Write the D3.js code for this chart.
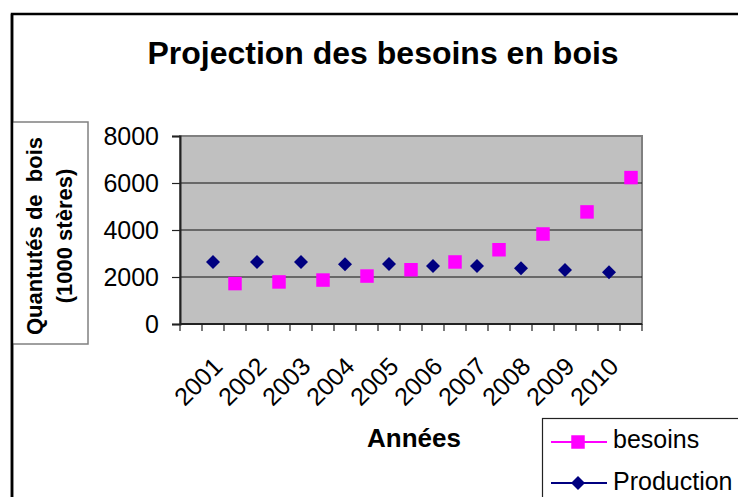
<!DOCTYPE html>
<html>
<head>
<meta charset="utf-8">
<script src="https://cdn.jsdelivr.net/npm/d3@7"></script>
<style>
  html, body { margin: 0; padding: 0; background: #fff; }
  svg { display: block; font-family: "Liberation Sans", Arial, sans-serif; }
</style>
</head>
<body>
<svg id="chart" width="738" height="497"></svg>
<script>
// ---- data ----
const years = ["2001","2002","2003","2004","2005","2006","2007","2008","2009","2010"];
const besoins = [1720, 1790, 1870, 2040, 2310, 2640, 3160, 3830, 4770, 6230];
const production = [2640, 2640, 2640, 2540, 2550, 2470, 2470, 2370, 2300, 2200];
const yTicks = [0, 2000, 4000, 6000, 8000];
const titleText = "Projection des besoins en bois";
const xTitle = "Années";
const yTitle1 = "Quantutés de  bois";
const yTitle2 = "(1000 stères)";
const seriesNames = ["besoins", "Production"];

// ---- layout ----
const svg = d3.select("#chart");
const plot = { left: 180, right: 642, top: 136, bottom: 324 };
const font = '"Liberation Sans", Arial, sans-serif';
const MAGENTA = "#FF00FF", NAVY = "#000080";

// slots: empty first, then production/besoins for each year
const slots = [""].concat(years.flatMap(y => [y + "p", y + "b"]));
const x = d3.scaleBand().domain(slots).range([plot.left, plot.right]).padding(0);
const y = d3.scaleLinear().domain([0, 8000]).range([plot.bottom, plot.top]);

// outer chart border
svg.append("rect")
  .attr("x", 12).attr("y", 14).attr("width", 800).attr("height", 600)
  .attr("fill", "none").attr("stroke", "#000").attr("stroke-width", 2.5);

// title
svg.append("text")
  .attr("x", 383).attr("y", 64)
  .attr("text-anchor", "middle")
  .attr("font-size", 32).attr("font-weight", "bold")
  .text(titleText);

// plot area
svg.append("rect")
  .attr("x", plot.left).attr("y", plot.top)
  .attr("width", plot.right - plot.left).attr("height", plot.bottom - plot.top)
  .attr("fill", "#C0C0C0").attr("stroke", "#808080").attr("stroke-width", 2);

// gridlines
svg.append("g").selectAll("line")
  .data(yTicks.filter(d => d > 0 && d < 8000))
  .join("line")
  .attr("x1", plot.left).attr("x2", plot.right)
  .attr("y1", d => y(d)).attr("y2", d => y(d))
  .attr("stroke", "#111").attr("stroke-width", 1);

// y axis
const yAxis = svg.append("g")
  .attr("transform", `translate(${plot.left},0)`)
  .call(d3.axisLeft(y).tickValues(yTicks).tickFormat(d => String(d)).tickSize(8).tickPadding(13));
yAxis.select(".domain").attr("stroke", "#222").attr("stroke-width", 2);
yAxis.selectAll(".tick line").attr("stroke", "#222").attr("stroke-width", 1.2);
yAxis.selectAll(".tick text").attr("font-size", 25).attr("font-family", font).attr("fill", "#000");

// x axis line and ticks at slot boundaries
svg.append("line")
  .attr("x1", plot.left).attr("x2", plot.right)
  .attr("y1", plot.bottom).attr("y2", plot.bottom)
  .attr("stroke", "#222").attr("stroke-width", 2);
const boundaries = slots.map(s => x(s)).concat([x.range()[1]]);
svg.append("g").selectAll("line")
  .data(boundaries)
  .join("line")
  .attr("x1", d => d).attr("x2", d => d)
  .attr("y1", plot.bottom).attr("y2", plot.bottom + 7)
  .attr("stroke", "#222").attr("stroke-width", 1.2);

// x labels (rotated -45)
svg.append("g").selectAll("text")
  .data(years)
  .join("text")
  .attr("transform", d => `translate(${x(d + "b")},${plot.bottom + 44}) rotate(-45)`)
  .attr("text-anchor", "end")
  .attr("font-size", 25)
  .text(d => d);

// x title
svg.append("text")
  .attr("x", 414).attr("y", 447)
  .attr("text-anchor", "middle")
  .attr("font-size", 26).attr("font-weight", "bold")
  .text(xTitle);

// y title box
svg.append("rect")
  .attr("x", 12).attr("y", 122).attr("width", 76).attr("height", 222)
  .attr("fill", "#fff").attr("stroke", "#808080").attr("stroke-width", 1.5);
svg.append("line")
  .attr("x1", 12).attr("x2", 12).attr("y1", 14).attr("y2", 497)
  .attr("stroke", "#000").attr("stroke-width", 2.5);
const yt = svg.append("text")
  .attr("transform", "translate(0,236) rotate(-90)")
  .attr("text-anchor", "middle")
  .attr("font-size", 22).attr("font-weight", "bold")
  .style("white-space", "pre");
yt.append("tspan").attr("x", 0).attr("y", 42).text(yTitle1);
yt.append("tspan").attr("x", 0).attr("y", 72).text(yTitle2);

// markers
const squareSym = d3.symbol(d3.symbolSquare, 182);
const diamondSym = d3.symbol(d3.symbolSquare, 98);

svg.append("g").selectAll("path")
  .data(years.map((yr, i) => ({ yr, v: production[i] })))
  .join("path")
  .attr("d", diamondSym)
  .attr("transform", d => `translate(${x(d.yr + "p") + x.bandwidth() / 2},${y(d.v)}) rotate(45)`)
  .attr("fill", NAVY);

svg.append("g").selectAll("path")
  .data(years.map((yr, i) => ({ yr, v: besoins[i] })))
  .join("path")
  .attr("d", squareSym)
  .attr("transform", d => `translate(${x(d.yr + "b") + x.bandwidth() / 2},${y(d.v)})`)
  .attr("fill", MAGENTA);

// legend
svg.append("rect")
  .attr("x", 542.5).attr("y", 418.5).attr("width", 300).attr("height", 200)
  .attr("fill", "#fff").attr("stroke", "#222").attr("stroke-width", 1.2);
const legendItems = [
  { name: seriesNames[0], color: MAGENTA, sym: squareSym, rot: 0, ly: 442, ty: 448 },
  { name: seriesNames[1], color: NAVY, sym: diamondSym, rot: 45, ly: 483, ty: 490 }
];
const lg = svg.append("g").selectAll("g").data(legendItems).join("g");
lg.append("line")
  .attr("x1", 551).attr("x2", 607)
  .attr("y1", d => d.ly).attr("y2", d => d.ly)
  .attr("stroke", d => d.color).attr("stroke-width", 1.8);
lg.append("path")
  .attr("d", d => d.sym())
  .attr("transform", d => `translate(578,${d.ly}) rotate(${d.rot})`)
  .attr("fill", d => d.color);
lg.append("text")
  .attr("x", 613).attr("y", d => d.ty)
  .attr("font-size", 25)
  .text(d => d.name);
</script>
</body>
</html>
